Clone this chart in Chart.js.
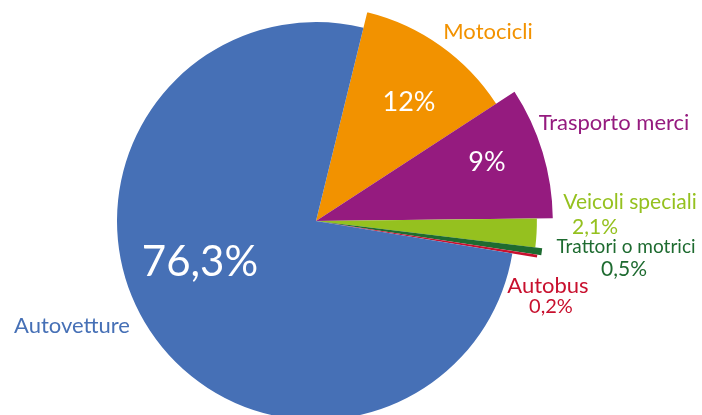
<!DOCTYPE html>
<html>
<head>
<meta charset="utf-8">
<script src="https://cdn.jsdelivr.net/npm/chart.js@4"></script>
<style>
  html, body { margin: 0; padding: 0; background: #fff; overflow: hidden; }
  #wrap { width: 702px; height: 420px; position: relative; }
</style>
</head>
<body>
<div id="wrap"><canvas id="pie"></canvas></div>
<script>
// categories and shares (%) as printed on the chart
const categories = ["Motocicli", "Trasporto merci", "Veicoli speciali", "Trattori o motrici", "Autobus", "Autovetture"];
const shares = [12, 9, 2.1, 0.5, 0.2, 76.3];
const shareLabels = ["12%", "9%", "2,1%", "0,5%", "0,2%", "76,3%"];

const colors = ["#F29200", "#951B7F", "#95C11F", "#1E6B30", "#C8102E", "#4670B6"];
// slices are drawn with different radii (relative to the base radius)
const radiusScale = [1.08, 1.19, 1.11, 1.145, 1.125, 1.0];

// label layout: offset of text centre from the pie centre
const inside = [
  { i: 0, dx: 93, dy: -119, size: 27 },
  { i: 1, dx: 171, dy: -59, size: 27 },
  { i: 5, dx: -116, dy: 41, size: 42 },
];
const outside = [
  { i: 0, dx: 172, dy: -189, size: 22 },
  { i: 1, dx: 298, dy: -98, size: 22 },
  { i: 2, dx: 314, dy: -19, size: 21, pdx: 279, pdy: 6, psize: 21 },
  { i: 3, dx: 310, dy: 26, size: 19, pdx: 308, pdy: 48, psize: 21 },
  { i: 4, dx: 232, dy: 65, size: 22, pdx: 235, pdy: 86, psize: 20 },
  { i: 5, dx: -244, dy: 105, size: 22 },
];

const FONT = "Lato, 'Open Sans', sans-serif";

const sliceRadius = {
  id: "sliceRadius",
  afterDatasetsUpdate(chart) {
    const meta = chart.getDatasetMeta(0);
    meta.data.forEach((arc, i) => { arc.outerRadius = arc.outerRadius * radiusScale[i]; });
  }
};

const sliceLabels = {
  id: "sliceLabels",
  afterDatasetsDraw(chart) {
    const ctx = chart.ctx;
    const arc = chart.getDatasetMeta(0).data[0];
    const cx = arc.x, cy = arc.y;
    ctx.save();
    ctx.textAlign = "center";
    ctx.textBaseline = "middle";
    inside.forEach(l => {
      ctx.font = `${l.size}px ${FONT}`;
      ctx.fillStyle = "#fff";
      ctx.fillText(shareLabels[l.i], cx + l.dx, cy + l.dy);
    });
    outside.forEach(l => {
      ctx.font = `${l.size}px ${FONT}`;
      ctx.fillStyle = colors[l.i];
      ctx.fillText(categories[l.i], cx + l.dx, cy + l.dy);
      if (l.psize) {
        ctx.font = `${l.psize}px ${FONT}`;
        ctx.fillText(shareLabels[l.i], cx + l.pdx, cy + l.pdy);
      }
    });
    ctx.restore();
  }
};

new Chart(document.getElementById("pie"), {
  type: "pie",
  data: {
    labels: categories,
    datasets: [{ data: shares, backgroundColor: colors, borderWidth: 0 }],
  },
  options: {
    responsive: true,
    maintainAspectRatio: false,
    animation: false,
    events: [],
    rotation: 13.8,
    layout: { padding: { top: 22, bottom: 0, left: 0, right: 70 } },
    plugins: { legend: { display: false }, tooltip: { enabled: false } },
  },
  plugins: [sliceRadius, sliceLabels],
});
</script>
</body>
</html>
